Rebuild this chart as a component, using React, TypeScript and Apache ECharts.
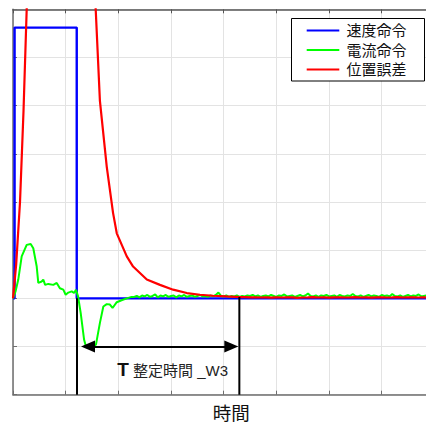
import React, { useEffect, useRef } from 'react';
import * as echarts from 'echarts';

const seriesNames = ['速度命令', '電流命令', '位置誤差'];
const seriesColors = ['#0000ff', '#00ff00', '#ff0000'];

// 速度命令 (speed command)
const speedX = [0, 0.03, 0.03, 1.21, 1.21, 8];
const speedY = [0, 0, 5.62, 5.62, 0, 0];

// 電流命令 (current command) transient
const currentX = [0, 0.05, 0.1, 0.165, 0.26, 0.336, 0.385, 0.45, 0.48, 0.545, 0.575, 0.61, 0.67, 0.765, 0.83, 0.89, 0.955, 1.0, 1.05, 1.115, 1.16, 1.195, 1.235, 1.285, 1.35, 1.385, 1.45, 1.525, 1.575, 1.65, 1.715, 1.78, 1.84, 1.89, 1.97, 2.06, 2.16, 2.25];
const currentY = [0, 0.15, 0.39, 0.87, 1.11, 1.13, 1.04, 0.66, 0.32, 0.35, 0.39, 0.28, 0.3, 0.28, 0.32, 0.21, 0.18, 0.075, 0.12, 0.145, 0.11, 0.18, 0.04, -0.3, -0.86, -1.0, -1.0, -1.01, -0.96, -0.51, -0.17, -0.12, -0.13, -0.2, -0.08, -0.04, 0.0, 0.03];
// 電流命令 settled tail, sampled every 0.05 from 2.30
const currentTailStart = 2.3;
const currentTailStep = 0.05;
const currentTail = [
  0.03, 0.05, 0.02, 0.06, 0.04, 0.07, 0.03, 0.05, 0.08, 0.02,
  0.06, 0.04, 0.07, 0.03, 0.05, 0.06, 0.02, 0.06, 0.04, 0.07,
  0.03, 0.05, 0.06, 0.03, 0.05, 0.07, 0.04, 0.05, 0.03, 0.06,
  0.04, 0.07, 0.12, 0.05, 0.04, 0.06, 0.03, 0.05, 0.04, 0.06,
  0.03, 0.05, 0.04, 0.06, 0.05, 0.07, 0.04, 0.06, 0.03, 0.05,
  0.06, 0.04, 0.07, 0.05, 0.03, 0.06, 0.05, 0.08, 0.04, 0.05,
  0.06, 0.03, 0.05, 0.07, 0.04, 0.06, 0.1, 0.05, 0.04, 0.06,
  0.03, 0.06, 0.05, 0.07, 0.04, 0.05, 0.06, 0.03, 0.07, 0.05,
  0.04, 0.06, 0.05, 0.09, 0.05, 0.04, 0.06, 0.03, 0.05, 0.07,
  0.04, 0.06, 0.05, 0.03, 0.07, 0.05, 0.06, 0.04, 0.09, 0.05,
  0.04, 0.06, 0.03, 0.05, 0.07, 0.04, 0.06, 0.05, 0.08, 0.04,
  0.05, 0.06, 0.03, 0.06, 0.05,
];

// 位置誤差 (position error)
const errorX = [0, 0.06, 0.133, 0.2, 0.26, 0.35, 0.5, 0.8, 1.1, 1.35, 1.57, 1.65, 1.78, 1.9, 1.97, 2.16, 2.28, 2.54, 2.79, 3.04, 3.3, 3.55, 3.8, 4.05, 4.31];
const errorY = [0, 0.7, 2.0, 3.9, 6.0, 9, 12, 14, 13, 10, 6.0, 4.1, 2.73, 1.77, 1.35, 0.87, 0.66, 0.39, 0.28, 0.18, 0.11, 0.075, 0.054, 0.04, 0.027];
const errorTailStart = 4.4;
const errorTailStep = 0.1;
const errorTail = [
  0.025, 0.02, 0.022, 0.018, 0.02, 0.015, 0.02, 0.018, 0.022, 0.02,
  0.008, 0.018, 0.02, 0.024, 0.018, 0.02, 0.016, 0.022, 0.02, 0.018,
  0.02, 0.024, 0.018, 0.02, 0.016, 0.02, 0.022, 0.018, 0.02, 0.024,
  0.018, 0.02, 0.022, 0.018, 0.02, 0.022, 0.02,
];

// Settling time annotation (data coordinates)
const settleStartX = 1.215;
const settleEndX = 4.297;
const settleTopY = [0, 0.03];
const axisBottomY = -2;
const arrowY = -1;
const arrowFromX = 1.424;
const arrowToX = 4.145;

const xMin = 0;
const xMax = 8;
const yMin = -2;
const yMax = 6;

function pairs(xs: number[], ys: number[]) {
  return xs.map((x, i) => [x, ys[i]]);
}

export default function App() {
  const ref = useRef<HTMLDivElement>(null);

  useEffect(() => {
    if (!ref.current) return;
    const chart = echarts.init(ref.current, undefined, { renderer: 'svg' });

    const currentData = pairs(currentX, currentY).concat(
      currentTail.map((v, i) => [+(currentTailStart + i * currentTailStep).toFixed(2), v])
    );
    const errorData = pairs(errorX, errorY).concat(
      errorTail.map((v, i) => [+(errorTailStart + i * errorTailStep).toFixed(2), v])
    );

    const font = '"Liberation Sans", "Noto Sans CJK JP", sans-serif';
    const axisColor = '#6e6e6e';
    const gridColor = '#e3e3e3';

    const legendLeft = 291.5;
    const legendTop = 18.5;
    const legendRows = [30.5, 50, 69.5];

    const graphics: any[] = [
      {
        type: 'rect',
        shape: { x: legendLeft, y: legendTop, width: 133, height: 62.5 },
        style: { fill: '#fff', stroke: '#000', lineWidth: 1 },
        z: 100,
      },
    ];
    seriesNames.forEach((name, i) => {
      graphics.push({
        type: 'line',
        shape: { x1: 306.7, y1: legendRows[i], x2: 339.3, y2: legendRows[i] },
        style: { stroke: seriesColors[i], lineWidth: 2.2 },
        z: 101,
      });
      graphics.push({
        type: 'text',
        x: 346.5,
        y: legendRows[i],
        style: {
          text: name,
          fontSize: 15,
          fontFamily: font,
          fill: '#111',
          align: 'left',
          verticalAlign: 'middle',
        },
        z: 101,
      });
    });
    graphics.push({
      type: 'text',
      x: 117.3,
      y: 369.5,
      style: {
        text: 'T',
        fontSize: 19,
        fontWeight: 'bold',
        fontFamily: font,
        fill: '#111',
        align: 'left',
        verticalAlign: 'middle',
      },
      z: 101,
    });
    graphics.push({
      type: 'text',
      x: 133,
      y: 370,
      style: {
        text: '整定時間 _W3',
        fontSize: 15,
        fontFamily: font,
        fill: '#222',
        align: 'left',
        verticalAlign: 'middle',
      },
      z: 101,
    });
    graphics.push({
      type: 'text',
      x: 231.3,
      y: 413.5,
      style: {
        text: '時間',
        fontSize: 18.5,
        fontFamily: font,
        fill: '#111',
        align: 'center',
        verticalAlign: 'middle',
      },
      z: 101,
    });

    const lineBase = {
      type: 'line' as const,
      symbol: 'none',
      showSymbol: false,
      silent: true,
      clip: true,
    };

    chart.setOption({
      animation: false,
      grid: { left: 13, top: 9.3, width: 421.4, height: 385.4, containLabel: false },
      xAxis: [
        {
          type: 'value',
          min: xMin,
          max: xMax,
          interval: 1,
          position: 'bottom',
          axisLine: { show: true, onZero: false, lineStyle: { color: axisColor, width: 1.5 } },
          axisTick: { show: true, inside: true, length: 4, lineStyle: { color: axisColor } },
          axisLabel: { show: false },
          splitLine: { show: true, lineStyle: { color: gridColor, width: 1 } },
        },
        {
          type: 'value',
          min: xMin,
          max: xMax,
          interval: 1,
          position: 'top',
          axisLine: { show: true, onZero: false, lineStyle: { color: '#555', width: 1.5 } },
          axisTick: { show: true, inside: true, length: 4, lineStyle: { color: '#555' } },
          axisLabel: { show: false },
          splitLine: { show: false },
        },
      ],
      yAxis: {
        type: 'value',
        min: yMin,
        max: yMax,
        interval: 1,
        axisLine: { show: true, onZero: false, lineStyle: { color: axisColor, width: 1.5 } },
        axisTick: { show: true, inside: true, length: 4, lineStyle: { color: axisColor } },
        axisLabel: { show: false },
        splitLine: { show: true, lineStyle: { color: gridColor, width: 1 } },
      },
      series: [
        {
          ...lineBase,
          name: seriesNames[0],
          data: pairs(speedX, speedY),
          lineStyle: { color: seriesColors[0], width: 2.4 },
          itemStyle: { color: seriesColors[0] },
          z: 2,
        },
        {
          ...lineBase,
          name: seriesNames[1],
          data: currentData,
          lineStyle: { color: seriesColors[1], width: 2 },
          itemStyle: { color: seriesColors[1] },
          z: 3,
        },
        {
          ...lineBase,
          name: seriesNames[2],
          data: errorData,
          lineStyle: { color: seriesColors[2], width: 2.2 },
          itemStyle: { color: seriesColors[2] },
          z: 4,
        },
        {
          ...lineBase,
          name: 'settleStart',
          data: [[settleStartX, settleTopY[0]], [settleStartX, axisBottomY]],
          lineStyle: { color: '#000', width: 2 },
          z: 5,
        },
        {
          ...lineBase,
          name: 'settleEnd',
          data: [[settleEndX, settleTopY[1]], [settleEndX, axisBottomY]],
          lineStyle: { color: '#000', width: 2 },
          z: 5,
          markLine: {
            silent: true,
            symbol: ['triangle', 'triangle'],
            symbolSize: [12, 14],
            label: { show: false },
            lineStyle: { color: '#000', width: 2, type: 'solid' },
            itemStyle: { color: '#000' },
            data: [[{ coord: [arrowFromX, arrowY] }, { coord: [arrowToX, arrowY] }]],
          },
        },
      ],
      graphic: graphics,
    });

    return () => chart.dispose();
  }, []);

  return (
    <div
      style={{
        position: 'absolute',
        left: 0,
        top: 0,
        width: 426,
        height: 427,
        overflow: 'hidden',
        background: '#fff',
      }}
    >
      <div ref={ref} style={{ width: 450, height: 427 }} />
    </div>
  );
}
